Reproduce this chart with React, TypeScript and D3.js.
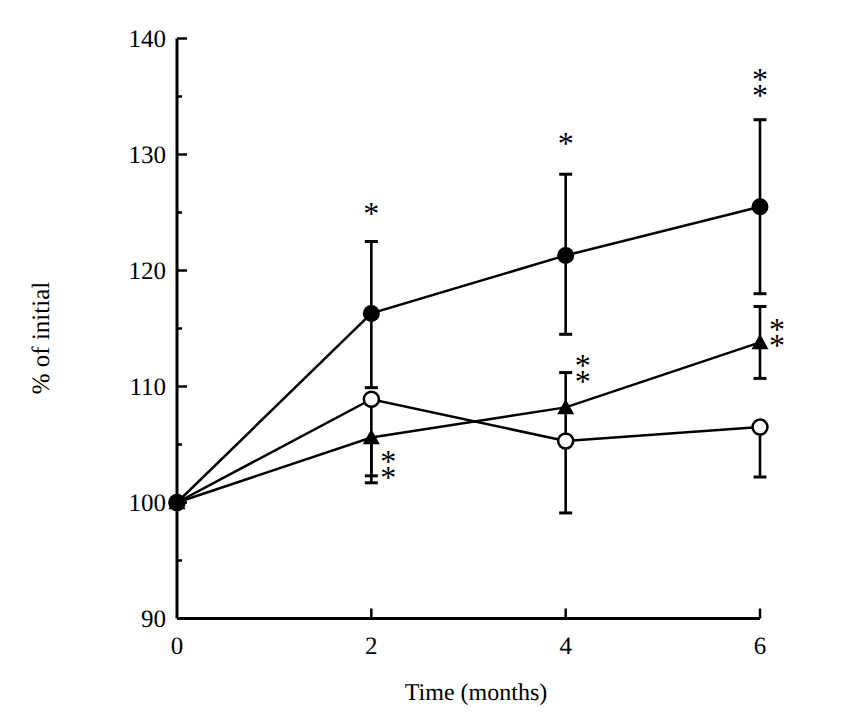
import React from "react";
import * as d3 from "d3";

const times = [0, 2, 4, 6];

const filledMean = [100, 116.3, 121.3, 125.5];
const filledUp = [0, 6.2, 7.0, 7.5];
const filledDown = [0, 6.4, 6.8, 7.5];

const triMean = [100, 105.6, 108.2, 113.8];
const triUp = [0, 0, 3.0, 3.1];
const triDown = [0, 3.9, 2.9, 3.1];

const openMean = [100, 108.9, 105.3, 106.5];
const openUp = [0, 0, 0, 0];
const openDown = [0, 6.6, 6.2, 4.3];

// significance marks: time, value of first star (data units), label, side
const starTimes = [2, 4, 6, 2, 4, 6];
const starValues = [125.4, 131.4, 136.9, 104.0, 112.3, 115.4];
const starLabels = ["*", "*", "**", "**", "**", "**"];
const starSides = ["above", "above", "above", "right", "right", "right"];

const yTicks = [90, 100, 110, 120, 130, 140];
const yMinorTicks = [95, 105, 115, 125, 135];
const xTicks = [0, 2, 4, 6];

const W = 847;
const H = 720;
const FONT = "'Liberation Serif', 'Times New Roman', serif";

export default function App() {
  const x = d3.scaleLinear().domain([0, 6]).range([177, 760]);
  const y = d3.scaleLinear().domain([90, 140]).range([618.5, 38.5]);
  const line = d3
    .line<number>()
    .x((_, i) => x(times[i]))
    .y((d) => y(d));

  const errorBars = (mean: number[], up: number[], down: number[], key: string) =>
    times.map((t, i) => {
      const els: React.ReactNode[] = [];
      const cx = x(t);
      if (up[i] > 0) {
        const y1 = y(mean[i] + up[i]);
        els.push(<line key={key + "u" + i} x1={cx} x2={cx} y1={y(mean[i])} y2={y1} stroke="#000" strokeWidth={2.6} />);
        els.push(<line key={key + "uc" + i} x1={cx - 6.5} x2={cx + 6.5} y1={y1} y2={y1} stroke="#000" strokeWidth={3} />);
      }
      if (down[i] > 0) {
        const y1 = y(mean[i] - down[i]);
        els.push(<line key={key + "d" + i} x1={cx} x2={cx} y1={y(mean[i])} y2={y1} stroke="#000" strokeWidth={2.6} />);
        els.push(<line key={key + "dc" + i} x1={cx - 6.5} x2={cx + 6.5} y1={y1} y2={y1} stroke="#000" strokeWidth={3} />);
      }
      return els;
    });

  const triPath = (cx: number, cy: number) => {
    const s = 8.5;
    return `M${cx},${cy - s} L${cx + s},${cy + s * 0.8} L${cx - s},${cy + s * 0.8} Z`;
  };

  return (
    <svg
      width={W}
      height={H}
      style={{ position: "absolute", left: 0, top: 0, background: "#fff" }}
      fontFamily={FONT}
      textRendering="geometricPrecision"
    >
      <rect x={0} y={0} width={W} height={H} fill="#fff" />
      {/* axes */}
      <line x1={x(0)} x2={x(0)} y1={y(140)} y2={y(90)} stroke="#000" strokeWidth={3} />
      <line x1={x(0)} x2={x(6)} y1={y(90)} y2={y(90)} stroke="#000" strokeWidth={3} />
      {yTicks.map((v) => (
        <g key={"yt" + v}>
          <line x1={x(0)} x2={x(0) + 10} y1={y(v)} y2={y(v)} stroke="#000" strokeWidth={2.5} />
          <text x={x(0) - 11} y={y(v) + 8.5} textAnchor="end" fontSize={25} fill="#000">
            {v}
          </text>
        </g>
      ))}
      {yMinorTicks.map((v) => (
        <line key={"ym" + v} x1={x(0)} x2={x(0) + 5} y1={y(v)} y2={y(v)} stroke="#000" strokeWidth={2.5} />
      ))}
      {xTicks.map((v) => (
        <g key={"xt" + v}>
          {v > 0 && <line x1={x(v)} x2={x(v)} y1={y(90)} y2={y(90) - 10} stroke="#000" strokeWidth={2.5} />}
          <text x={x(v)} y={y(90) + 35} textAnchor="middle" fontSize={25} fill="#000">
            {v}
          </text>
        </g>
      ))}
      <text x={476} y={700} textAnchor="middle" fontSize={24} fill="#000">
        Time (months)
      </text>
      <text
        transform={`translate(49,338) rotate(-90)`}
        textAnchor="middle"
        fontSize={25}
        fill="#000"
      >
        % of initial
      </text>

      {/* lines */}
      <path d={line(openMean) || ""} fill="none" stroke="#000" strokeWidth={2.5} />
      <path d={line(triMean) || ""} fill="none" stroke="#000" strokeWidth={2.5} />
      <path d={line(filledMean) || ""} fill="none" stroke="#000" strokeWidth={2.5} />

      {/* error bars */}
      {errorBars(openMean, openUp, openDown, "o")}
      {errorBars(triMean, triUp, triDown, "t")}
      {errorBars(filledMean, filledUp, filledDown, "f")}

      {/* markers */}
      {openMean.map((v, i) => (
        <circle key={"om" + i} cx={x(times[i])} cy={y(v)} r={7.5} fill="#fff" stroke="#000" strokeWidth={2.5} />
      ))}
      {triMean.map((v, i) => (
        <path key={"tm" + i} d={triPath(x(times[i]), y(v))} fill="#000" />
      ))}
      {filledMean.map((v, i) => (
        <circle key={"fm" + i} cx={x(times[i])} cy={y(v)} r={8.5} fill="#000" />
      ))}

      {/* significance stars, stacked vertically */}
      {starTimes.map((t, i) => {
        const cx = starSides[i] === "right" ? x(t) + 17 : x(t);
        const cy = y(starValues[i]);
        return (
          <text
            key={"s" + i}
            x={cx}
            y={cy - 13}
            fontSize={32}
            fill="#000"
            style={{ writingMode: "vertical-rl", textOrientation: "upright", letterSpacing: "-20px" } as any}
          >
            {starLabels[i]}
          </text>
        );
      })}
    </svg>
  );
}
